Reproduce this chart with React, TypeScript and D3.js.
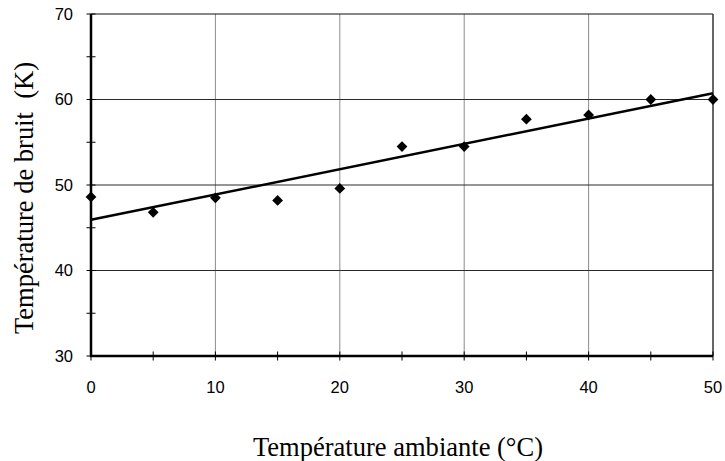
import React from "react";
import * as d3 from "d3";

const ambientTemps = [0, 5, 10, 15, 20, 25, 30, 35, 40, 45, 50];
const noiseTemps = [48.6, 46.8, 48.5, 48.2, 49.6, 54.5, 54.5, 57.7, 58.2, 60.0, 60.0];
const xTicks = [0, 10, 20, 30, 40, 50];
const xMinorTicks = [0, 5, 10, 15, 20, 25, 30, 35, 40, 45, 50];
const yTicks = [30, 40, 50, 60, 70];
const yMinorTicks = [30, 35, 40, 45, 50, 55, 60, 65, 70];
const xTitle = "Température ambiante (°C)";
const yTitle = "Température de bruit  (K)";

const W = 725;
const H = 461;
const left = 91;
const right = 713;
const top = 14;
const bottom = 356;

export default function App() {
  const x = d3.scaleLinear().domain([0, 50]).range([left, right]);
  const y = d3.scaleLinear().domain([30, 70]).range([bottom, top]);

  // least squares trendline
  const n = ambientTemps.length;
  const mx = d3.mean(ambientTemps) as number;
  const my = d3.mean(noiseTemps) as number;
  let sxy = 0;
  let sxx = 0;
  for (let i = 0; i < n; i++) {
    sxy += (ambientTemps[i] - mx) * (noiseTemps[i] - my);
    sxx += (ambientTemps[i] - mx) ** 2;
  }
  const slope = sxy / sxx;
  const intercept = my - slope * mx;
  const trend = [0, 50].map((t) => [t, intercept + slope * t] as [number, number]);
  const lineGen = d3
    .line<[number, number]>()
    .x((d) => x(d[0]))
    .y((d) => y(d[1]));

  const diamond = d3.symbol().type(d3.symbolSquare).size(58)();

  return (
    <div style={{ position: "fixed", left: 0, top: 0 }}>
      <svg width={W} height={H} style={{ display: "block", background: "#fff" }}>
        {/* vertical grid */}
        {xTicks
          .filter((t) => t !== 0 && t !== 50)
          .map((t) => (
            <line key={"vx" + t} x1={x(t)} x2={x(t)} y1={top} y2={bottom} stroke="#8c8c8c" strokeWidth={1} />
          ))}
        {/* horizontal grid */}
        {yTicks
          .filter((t) => t !== 30)
          .map((t) => (
            <line key={"hy" + t} x1={left} x2={right} y1={y(t)} y2={y(t)} stroke={t === 70 ? "#111" : "#2a2a2a"} strokeWidth={1} />
          ))}
        {/* right border */}
        <line x1={x(50)} x2={x(50)} y1={top} y2={bottom} stroke="#333" strokeWidth={1.5} />

        {/* trendline */}
        <path d={lineGen(trend) || ""} fill="none" stroke="#000" strokeWidth={2.5} />

        {/* axes */}
        <line x1={left} x2={left} y1={top} y2={bottom + 1} stroke="#000" strokeWidth={2.5} />
        <line x1={left - 1} x2={right} y1={bottom} y2={bottom} stroke="#000" strokeWidth={2.5} />
        {yMinorTicks.map((t) => (
          <line key={"yt" + t} x1={left - 4.5} x2={left + 4.5} y1={y(t)} y2={y(t)} stroke="#000" strokeWidth={1} />
        ))}
        {xMinorTicks.map((t) => (
          <line key={"xt" + t} x1={x(t)} x2={x(t)} y1={bottom - 4.5} y2={bottom + 4.5} stroke="#000" strokeWidth={1} />
        ))}

        {/* markers */}
        {ambientTemps.map((t, i) => (
          <path
            key={"m" + t}
            d={diamond || ""}
            transform={`translate(${x(t)},${y(noiseTemps[i])}) rotate(45)`}
            fill="#000"
          />
        ))}

        {/* tick labels */}
        {yTicks.map((t) => (
          <text
            key={"yl" + t}
            x={73}
            y={y(t)}
            dy="0.35em"
            textAnchor="end"
            fontFamily="Liberation Sans, Arial, sans-serif"
            fontSize={16.5}
            fill="#000"
          >
            {t}
          </text>
        ))}
        {xTicks.map((t) => (
          <text
            key={"xl" + t}
            x={x(t)}
            y={393}
            textAnchor="middle"
            fontFamily="Liberation Sans, Arial, sans-serif"
            fontSize={16.5}
            fill="#000"
          >
            {t}
          </text>
        ))}

        {/* titles */}
        <text
          x={398}
          y={456}
          textAnchor="middle"
          fontFamily="Liberation Serif, Times New Roman, serif"
          fontSize={27}
          textLength={290}
          lengthAdjust="spacingAndGlyphs"
          fill="#000"
        >
          {xTitle}
        </text>
        <text
          transform={`translate(33,198) rotate(-90)`}
          textAnchor="middle"
          fontFamily="Liberation Serif, Times New Roman, serif"
          fontSize={27}
          textLength={272}
          lengthAdjust="spacingAndGlyphs"
          style={{ whiteSpace: "pre" }}
          fill="#000"
        >
          {yTitle}
        </text>
      </svg>
    </div>
  );
}
